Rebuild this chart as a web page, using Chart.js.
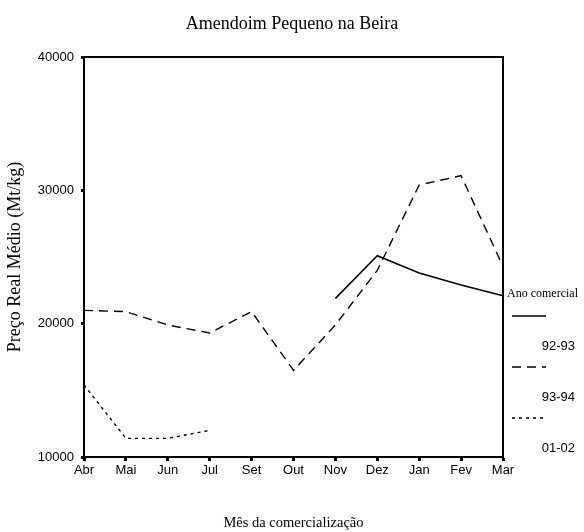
<!DOCTYPE html>
<html>
<head>
<meta charset="utf-8">
<script src="https://cdn.jsdelivr.net/npm/chart.js@4"></script>
<style>
  html, body { margin: 0; padding: 0; background: #fff; }
  #wrap { width: 584px; height: 532px; }
</style>
</head>
<body>
<div id="wrap"><canvas id="grafico" width="584" height="532"></canvas></div>
<script>
// === DONNEES ===
const meses = ["Abr", "Mai", "Jun", "Jul", "Set", "Out", "Nov", "Dez", "Jan", "Fev", "Mar"];
const anos = ["92-93", "93-94", "01-02"];
const v9293 = [null, null, null, null, null, null, 21900, 25100, 23800, 22900, 22100];
const v9394 = [21000, 20900, 19900, 19300, 20900, 16500, 19900, 24000, 30400, 31100, 24300];
const v0102 = [15400, 11400, 11400, 12000, null, null, null, null, null, null, null];
const yTicks = [10000, 20000, 30000, 40000];

const serif = "'Liberation Serif', 'DejaVu Serif', serif";
const sans = "'Liberation Sans', Arial, sans-serif";

// === BOITE + LEGENDE + TITRE ===
const cadre = {
  id: "cadre",
  afterDraw(chart) {
    const { ctx, chartArea: a } = chart;
    ctx.save();
    ctx.strokeStyle = "#000";
    ctx.lineWidth = 2;
    ctx.strokeRect(a.left, a.top, a.right - a.left, a.bottom - a.top);

    ctx.fillStyle = "#000";
    ctx.textAlign = "center";
    ctx.textBaseline = "middle";
    ctx.font = "18px " + serif;
    ctx.fillText("Amendoim Pequeno na Beira", 292, 24);

    // legende
    ctx.textAlign = "left";
    ctx.font = "12px " + serif;
    ctx.fillText("Ano comercial", 507, 294);
    chart.data.datasets.forEach((ds, i) => {
      const y = 316 + i * 51;
      ctx.beginPath();
      ctx.setLineDash(ds.borderDash || []);
      ctx.lineWidth = ds.borderWidth;
      ctx.strokeStyle = ds.borderColor;
      ctx.moveTo(512, y);
      ctx.lineTo(546, y);
      ctx.stroke();
      ctx.setLineDash([]);
      ctx.textAlign = "right";
      ctx.font = "13px " + sans;
      ctx.fillText(ds.label, 575, y + 30);
    });
    ctx.restore();
  }
};

new Chart(document.getElementById("grafico"), {
  type: "line",
  data: {
    labels: meses,
    datasets: [
      { label: anos[0], data: v9293, borderColor: "#000", borderWidth: 1.6, borderDash: [] },
      { label: anos[1], data: v9394, borderColor: "#000", borderWidth: 1.4, borderDash: [9, 6] },
      { label: anos[2], data: v0102, borderColor: "#000", borderWidth: 1.4, borderDash: [3, 4] }
    ]
  },
  options: {
    responsive: false,
    animation: false,
    layout: { padding: { top: 57, right: 81, left: 0, bottom: 0 } },
    elements: { point: { radius: 0 }, line: { tension: 0, fill: false } },
    plugins: { legend: { display: false }, title: { display: false }, tooltip: { enabled: false } },
    scales: {
      x: {
        offset: false,
        grid: { drawOnChartArea: false, tickLength: 4, tickWidth: 3, color: "#000" },
        border: { color: "#000", width: 2 },
        ticks: { color: "#000", font: { family: sans, size: 13 }, padding: 2, maxRotation: 0, autoSkip: false },
        title: { display: true, text: "Mês da comercialização", color: "#000", font: { family: serif, size: 14.5 }, padding: { top: 0, bottom: 0 } },
        afterFit(s) { s.height = 75; }
      },
      y: {
        min: 10000,
        max: 40000,
        afterBuildTicks(s) { s.ticks = yTicks.map(v => ({ value: v })); },
        grid: { drawOnChartArea: false, tickLength: 3, tickWidth: 3, color: "#000" },
        border: { color: "#000", width: 2 },
        ticks: { color: "#000", font: { family: sans, size: 13 }, padding: 7, callback: v => String(v) },
        title: { display: true, text: "Preço Real Médio (Mt/kg)", color: "#000", font: { family: serif, size: 18 }, padding: { top: 4, bottom: 0 } },
        afterFit(s) { s.width = 84; }
      }
    }
  },
  plugins: [cadre]
});
</script>
</body>
</html>
